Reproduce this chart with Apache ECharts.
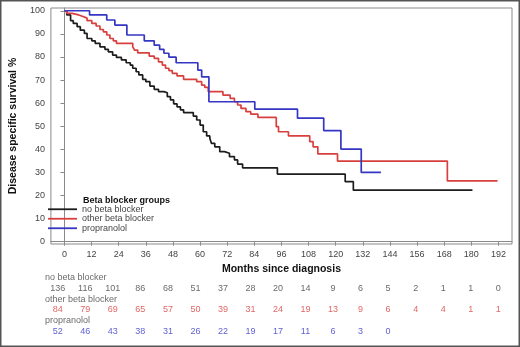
<!DOCTYPE html>
<html>
<head>
<meta charset="utf-8">
<script src="https://cdn.jsdelivr.net/npm/echarts@6/dist/echarts.min.js"></script>
<style>
  html, body { margin: 0; padding: 0; background: #fff; }
  #chart { width: 520px; height: 347px; }
</style>
</head>
<body>
<div id="chart"></div>
<script>
// tick values
var monthTicks = [0, 12, 24, 36, 48, 60, 72, 84, 96, 108, 120, 132, 144, 156, 168, 180, 192];
var survTicks = [0, 10, 20, 30, 40, 50, 60, 70, 80, 90, 100];

var groups = ["no beta blocker", "other beta blocker", "propranolol"];
var colors = ["#1c1c1c", "#d8403e", "#3636c4"];

// KM curves: [month, survival after the drop]
var noBeta = [[0,100],[1,98.2],[2.7,95.7],[3.9,94.5],[5.6,93.1],[7,91.6],[8.8,90.2],[10,88],[12.1,87],[13.6,85.9],
  [15.7,84.4],[17.9,83.3],[19.4,82.2],[21.3,80.8],[23,79.8],[25.2,78.7],[27.3,77.5],[29.1,76.5],[30.2,75.1],
  [31.7,73.6],[32.9,72.2],[34.6,70.3],[36,69.3],[37.8,67.4],[39.7,66],[41.6,65],[44,64.5],[45.5,62.8],[46.9,61.4],
  [48.3,59.7],[49.8,58.4],[51.3,57.1],[52.7,55.9],[57,54.4],[58.5,52.7],[60,50.5],[61.4,47.6],[62.9,45.8],
  [64.3,44.8],[65,42.6],[66.5,41.1],[68.7,39],[70.8,38.3],[73,36.8],[75.2,35.4],[76.6,33.6],[78.8,32],
  [94.2,29.3],[124.2,26],[127.8,22.3],[180.5,22.3]];
var otherBeta = [[0,100],[1,98.9],[3.4,98.2],[6.3,97.5],[8.2,96.8],[10,95.7],[12.1,94.5],[14,93.4],[15.7,91.9],
  [17.2,90.9],[18.7,89.5],[20.1,88],[21.6,87],[23,85.9],[30.2,84.4],[31,83],[32.4,81.8],[37.5,80.4],[39.7,79.4],
  [41.6,77.9],[43.3,76.5],[44.7,75.1],[46.2,74.1],[47.7,72.9],[49.8,71.8],[52.7,70.3],[58.5,69.3],[60.7,67.8],
  [62.1,66.8],[63.6,65],[70.1,63.5],[73.3,62.1],[75.2,60.6],[76.6,59.2],[78.1,57.7],[80.3,56.3],[82.4,55.2],
  [85.6,53.8],[93.7,49.8],[94.7,47.6],[99.1,45.8],[108.5,43.3],[110,41.1],[112.1,38],[120.8,34.9],
  [169.4,26.3],[191.6,26.3]];
var propranolol = [[0,100],[11.1,98.2],[18.7,96],[22.3,93.8],[27.6,89.5],[35.3,87],[39.7,85.1],[42.1,83.3],
  [44,81.6],[46.2,79.9],[49.4,77.5],[59,74.3],[60.7,71.4],[63.9,60.6],[84.2,57.4],[103.1,53.5],[114.7,48.1],
  [122.3,40.1],[131.3,30],[140,30]];

// numbers at risk
var riskNoBeta = [136, 116, 101, 86, 68, 51, 37, 28, 20, 14, 9, 6, 5, 2, 1, 1, 0];
var riskOther = [84, 79, 69, 65, 57, 50, 39, 31, 24, 19, 13, 9, 6, 4, 4, 1, 1];
var riskProp = [52, 46, 43, 38, 31, 26, 22, 19, 17, 11, 6, 3, 0];

var myChart = echarts.init(document.getElementById("chart"));

function riskRow(values, row) {
  return values.map(function (v, i) { return [monthTicks[i], row + 0.5, v]; });
}

function kmSeries(name, data, color) {
  return {
    name: name,
    type: "line",
    step: "end",
    data: data,
    symbol: "none",
    lineStyle: { color: color, width: 1.7 },
    itemStyle: { color: color },
    xAxisIndex: 0,
    yAxisIndex: 0,
    z: 3
  };
}

function textSeries(data, color, isName) {
  return {
    type: "scatter",
    xAxisIndex: 1,
    yAxisIndex: 1,
    data: data,
    symbolSize: 0,
    silent: true,
    label: {
      show: true,
      position: isName ? "right" : "inside",
      distance: 1,
      color: color,
      fontSize: 9,
      fontFamily: "Liberation Sans, Arial, sans-serif",
      formatter: function (p) { return p.value[2]; }
    }
  };
}

var font = "Liberation Sans, Arial, sans-serif";
var axisGray = "#8a8a8a";

var option = {
  animation: false,
  backgroundColor: "#fff",
  grid: [
    { left: 44, right: 8, top: 8, bottom: 103, show: true, borderColor: axisGray, borderWidth: 1 },
    { left: 44, right: 8, top: 272, height: 65 }
  ],
  xAxis: [
    {
      type: "value",
      gridIndex: 0,
      min: -6,
      max: 198,
      name: "Months since diagnosis",
      nameLocation: "middle",
      nameGap: 18,
      nameTextStyle: { fontWeight: "bold", fontSize: 10.5, color: "#111", fontFamily: font },
      axisLine: { show: true, lineStyle: { color: axisGray } },
      axisTick: { show: true, length: 4, customValues: monthTicks, lineStyle: { color: axisGray } },
      axisLabel: { customValues: monthTicks, margin: 6, fontSize: 9, color: "#444", fontFamily: font },
      splitLine: { show: false }
    },
    { type: "value", gridIndex: 1, min: -6, max: 198, show: false }
  ],
  yAxis: [
    {
      type: "value",
      gridIndex: 0,
      min: -1,
      max: 101.2,
      name: "Disease specific survival %",
      nameLocation: "middle",
      nameGap: 27,
      nameTextStyle: { fontWeight: "bold", fontSize: 10.5, color: "#111", fontFamily: font },
      axisLine: { show: true, lineStyle: { color: axisGray } },
      axisTick: { show: true, length: 4, customValues: survTicks, lineStyle: { color: axisGray } },
      axisLabel: { customValues: survTicks, margin: 6, fontSize: 9, color: "#444", fontFamily: font },
      splitLine: { show: false }
    },
    { type: "value", gridIndex: 1, min: 0, max: 6, inverse: true, show: false }
  ],
  legend: {
    data: groups,
    orient: "vertical",
    left: 48,
    top: 204.5,
    padding: 0,
    icon: "rect",
    itemWidth: 29,
    itemHeight: 1.8,
    itemGap: 0,
    textStyle: { fontSize: 9, lineHeight: 9.5, color: "#444", fontFamily: font },
    selectedMode: false
  },
  graphic: [
    {
      type: "text",
      left: 83,
      top: 196,
      style: { text: "Beta blocker groups", fontSize: 9, fontWeight: "bold", fill: "#111", fontFamily: font }
    },
    {
      type: "rect",
      shape: { x: 0.75, y: 0.75, width: 518.5, height: 345.5 },
      style: { fill: "none", stroke: "#555", lineWidth: 1.5 },
      silent: true
    }
  ],
  series: [
    kmSeries(groups[0], noBeta, colors[0]),
    kmSeries(groups[1], otherBeta, colors[1]),
    kmSeries(groups[2], propranolol, colors[2]),
    textSeries([[-6, 0.5, groups[0]]], "#444", true),
    textSeries(riskRow(riskNoBeta, 1), "#444", false),
    textSeries([[-6, 2.5, groups[1]]], "#444", true),
    textSeries(riskRow(riskOther, 3), colors[1], false),
    textSeries([[-6, 4.5, groups[2]]], "#444", true),
    textSeries(riskRow(riskProp, 5), colors[2], false)
  ]
};

myChart.setOption(option);
</script>
</body>
</html>
